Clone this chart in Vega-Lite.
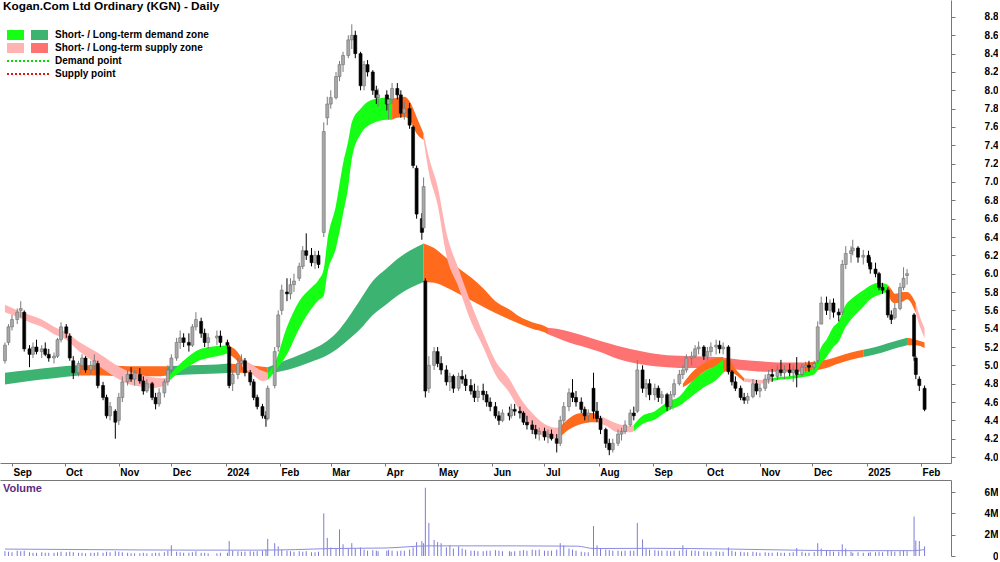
{
"$schema": "https://vega.github.io/schema/vega-lite/v6.json",
"padding": 0,
"background": "white",
"spacing": 17,
"bounds": "flush",
"config": {"view": {"stroke": null}, "font": "Liberation Sans", "title": {"font": "Liberation Sans"},
"axis": {"labelFont": "Liberation Sans", "labelFontSize": 10, "labelFontWeight": "bold", "labelColor": "#000000", "domainColor": "#777777", "tickColor": "#777777", "grid": false},
"legend": {"labelFont": "Liberation Sans"}},
"datasets": {
"p": [
{"d":"2023-08-28","o":5.05,"h":5.25,"l":5.02,"c":5.22,"v":0.45},
{"d":"2023-08-30","o":5.25,"h":5.45,"l":5.22,"c":5.42,"v":0.4},
{"d":"2023-09-01","o":5.42,"h":5.55,"l":5.38,"c":5.5,"v":0.35},
{"d":"2023-09-04","o":5.5,"h":5.62,"l":5.45,"c":5.58,"v":0.5},
{"d":"2023-09-06","o":5.6,"h":5.7,"l":5.52,"c":5.62,"v":0.45},
{"d":"2023-09-08","o":5.58,"h":5.6,"l":5.15,"c":5.18,"v":0.5},
{"d":"2023-09-11","o":5.18,"h":5.22,"l":4.98,"c":5.12,"v":0.35},
{"d":"2023-09-13","o":5.12,"h":5.25,"l":5.08,"c":5.2,"v":0.3},
{"d":"2023-09-15","o":5.2,"h":5.28,"l":5.12,"c":5.15,"v":0.3},
{"d":"2023-09-18","o":5.15,"h":5.22,"l":5.08,"c":5.18,"v":0.35},
{"d":"2023-09-20","o":5.18,"h":5.25,"l":5.1,"c":5.12,"v":0.3},
{"d":"2023-09-22","o":5.12,"h":5.18,"l":5.04,"c":5.08,"v":0.3},
{"d":"2023-09-25","o":5.08,"h":5.14,"l":5.02,"c":5.1,"v":0.3},
{"d":"2023-09-27","o":5.1,"h":5.3,"l":5.08,"c":5.28,"v":0.35},
{"d":"2023-09-29","o":5.28,"h":5.47,"l":5.25,"c":5.42,"v":0.4},
{"d":"2023-10-02","o":5.42,"h":5.45,"l":5.3,"c":5.35,"v":0.35},
{"d":"2023-10-04","o":5.32,"h":5.35,"l":5.05,"c":5.08,"v":0.4},
{"d":"2023-10-06","o":5.05,"h":5.1,"l":4.85,"c":4.92,"v":0.35},
{"d":"2023-10-09","o":4.92,"h":5.05,"l":4.88,"c":5.02,"v":0.3},
{"d":"2023-10-11","o":5.0,"h":5.12,"l":4.95,"c":5.08,"v":0.3},
{"d":"2023-10-13","o":5.08,"h":5.1,"l":4.92,"c":4.95,"v":0.25},
{"d":"2023-10-16","o":4.95,"h":5.05,"l":4.9,"c":5.0,"v":0.3},
{"d":"2023-10-18","o":5.0,"h":5.12,"l":4.95,"c":5.05,"v":0.3},
{"d":"2023-10-20","o":5.02,"h":5.05,"l":4.75,"c":4.78,"v":0.35},
{"d":"2023-10-23","o":4.78,"h":4.82,"l":4.62,"c":4.65,"v":0.3},
{"d":"2023-10-25","o":4.65,"h":4.68,"l":4.42,"c":4.45,"v":0.4},
{"d":"2023-10-27","o":4.45,"h":4.6,"l":4.4,"c":4.55,"v":0.35},
{"d":"2023-10-30","o":4.5,"h":4.52,"l":4.2,"c":4.38,"v":0.45},
{"d":"2023-11-01","o":4.4,"h":4.7,"l":4.35,"c":4.65,"v":0.4},
{"d":"2023-11-03","o":4.65,"h":4.88,"l":4.6,"c":4.82,"v":0.35},
{"d":"2023-11-06","o":4.82,"h":4.95,"l":4.78,"c":4.9,"v":0.3},
{"d":"2023-11-08","o":4.9,"h":4.98,"l":4.82,"c":4.85,"v":0.25},
{"d":"2023-11-10","o":4.85,"h":4.95,"l":4.78,"c":4.92,"v":0.25},
{"d":"2023-11-13","o":4.9,"h":4.97,"l":4.8,"c":4.83,"v":0.25},
{"d":"2023-11-15","o":4.83,"h":4.88,"l":4.68,"c":4.72,"v":0.3},
{"d":"2023-11-17","o":4.72,"h":4.85,"l":4.7,"c":4.8,"v":0.25},
{"d":"2023-11-20","o":4.8,"h":4.82,"l":4.62,"c":4.65,"v":0.25},
{"d":"2023-11-22","o":4.65,"h":4.7,"l":4.52,"c":4.58,"v":0.3},
{"d":"2023-11-24","o":4.58,"h":4.75,"l":4.55,"c":4.7,"v":0.3},
{"d":"2023-11-27","o":4.7,"h":4.85,"l":4.65,"c":4.82,"v":0.35},
{"d":"2023-11-29","o":4.82,"h":5.0,"l":4.78,"c":4.95,"v":0.5},
{"d":"2023-12-01","o":4.95,"h":5.12,"l":4.92,"c":5.08,"v":1.0},
{"d":"2023-12-04","o":5.08,"h":5.3,"l":5.05,"c":5.25,"v":0.4},
{"d":"2023-12-06","o":5.25,"h":5.38,"l":5.18,"c":5.3,"v":0.35},
{"d":"2023-12-08","o":5.3,"h":5.35,"l":5.2,"c":5.25,"v":0.3},
{"d":"2023-12-11","o":5.25,"h":5.35,"l":5.15,"c":5.22,"v":0.3},
{"d":"2023-12-13","o":5.22,"h":5.45,"l":5.2,"c":5.42,"v":0.35},
{"d":"2023-12-15","o":5.42,"h":5.58,"l":5.38,"c":5.5,"v":0.45},
{"d":"2023-12-18","o":5.48,"h":5.52,"l":5.3,"c":5.35,"v":0.3},
{"d":"2023-12-20","o":5.35,"h":5.4,"l":5.2,"c":5.25,"v":0.3},
{"d":"2023-12-22","o":5.25,"h":5.35,"l":5.18,"c":5.3,"v":0.25},
{"d":"2023-12-27","o":5.3,"h":5.38,"l":5.22,"c":5.32,"v":0.25},
{"d":"2023-12-29","o":5.32,"h":5.38,"l":5.2,"c":5.25,"v":0.3},
{"d":"2024-01-02","o":5.25,"h":5.28,"l":5.18,"c":5.22,"v":0.3},
{"d":"2024-01-03","o":5.2,"h":5.22,"l":4.75,"c":4.78,"v":1.4},
{"d":"2024-01-05","o":4.8,"h":4.95,"l":4.72,"c":4.9,"v":0.5},
{"d":"2024-01-08","o":4.9,"h":5.08,"l":4.85,"c":5.02,"v":0.45},
{"d":"2024-01-10","o":5.02,"h":5.12,"l":4.95,"c":5.05,"v":0.4},
{"d":"2024-01-12","o":5.05,"h":5.08,"l":4.88,"c":4.92,"v":0.4},
{"d":"2024-01-15","o":4.92,"h":4.95,"l":4.78,"c":4.82,"v":0.45},
{"d":"2024-01-17","o":4.82,"h":4.85,"l":4.62,"c":4.65,"v":0.4},
{"d":"2024-01-19","o":4.65,"h":4.68,"l":4.52,"c":4.55,"v":0.45},
{"d":"2024-01-22","o":4.55,"h":4.58,"l":4.42,"c":4.45,"v":0.5},
{"d":"2024-01-24","o":4.45,"h":4.5,"l":4.33,"c":4.42,"v":0.6},
{"d":"2024-01-25","o":4.42,"h":4.78,"l":4.4,"c":4.75,"v":1.6},
{"d":"2024-01-29","o":4.78,"h":5.2,"l":4.75,"c":5.15,"v":1.2},
{"d":"2024-01-31","o":5.2,"h":5.6,"l":5.15,"c":5.55,"v":0.9},
{"d":"2024-02-02","o":5.6,"h":5.88,"l":5.55,"c":5.82,"v":0.6},
{"d":"2024-02-05","o":5.8,"h":5.95,"l":5.7,"c":5.78,"v":0.5},
{"d":"2024-02-07","o":5.78,"h":5.95,"l":5.72,"c":5.88,"v":0.45},
{"d":"2024-02-09","o":5.88,"h":6.0,"l":5.8,"c":5.92,"v":0.4},
{"d":"2024-02-12","o":5.95,"h":6.12,"l":5.92,"c":6.08,"v":0.45},
{"d":"2024-02-14","o":6.08,"h":6.3,"l":6.05,"c":6.25,"v":0.4},
{"d":"2024-02-16","o":6.25,"h":6.44,"l":6.15,"c":6.2,"v":0.45},
{"d":"2024-02-19","o":6.2,"h":6.28,"l":6.08,"c":6.12,"v":0.35},
{"d":"2024-02-21","o":6.12,"h":6.25,"l":6.05,"c":6.2,"v":0.35},
{"d":"2024-02-23","o":6.2,"h":6.25,"l":6.06,"c":6.1,"v":0.4},
{"d":"2024-02-26","o":6.45,"h":7.65,"l":6.4,"c":7.55,"v":4.0},
{"d":"2024-02-28","o":7.7,"h":7.93,"l":7.62,"c":7.85,"v":1.7},
{"d":"2024-03-01","o":7.85,"h":8.0,"l":7.8,"c":7.92,"v":0.8},
{"d":"2024-03-04","o":7.92,"h":8.2,"l":7.9,"c":8.15,"v":0.7},
{"d":"2024-03-06","o":8.15,"h":8.32,"l":8.1,"c":8.28,"v":2.5},
{"d":"2024-03-08","o":8.28,"h":8.42,"l":8.2,"c":8.38,"v":1.1},
{"d":"2024-03-11","o":8.38,"h":8.6,"l":8.35,"c":8.55,"v":0.7},
{"d":"2024-03-13","o":8.55,"h":8.72,"l":8.45,"c":8.6,"v":1.2},
{"d":"2024-03-15","o":8.6,"h":8.65,"l":8.35,"c":8.4,"v":0.7},
{"d":"2024-03-18","o":8.4,"h":8.42,"l":8.0,"c":8.05,"v":0.8},
{"d":"2024-03-20","o":8.05,"h":8.32,"l":8.0,"c":8.28,"v":0.6},
{"d":"2024-03-22","o":8.28,"h":8.33,"l":8.15,"c":8.2,"v":0.5},
{"d":"2024-03-25","o":8.2,"h":8.22,"l":7.95,"c":8.0,"v":0.55},
{"d":"2024-03-27","o":8.0,"h":8.05,"l":7.85,"c":7.92,"v":0.5},
{"d":"2024-03-28","o":7.92,"h":8.02,"l":7.82,"c":7.95,"v":0.45},
{"d":"2024-04-02","o":7.95,"h":8.0,"l":7.78,"c":7.85,"v":0.5},
{"d":"2024-04-03","o":7.85,"h":7.95,"l":7.68,"c":7.9,"v":0.55},
{"d":"2024-04-05","o":7.9,"h":8.08,"l":7.85,"c":8.02,"v":0.5},
{"d":"2024-04-08","o":8.02,"h":8.08,"l":7.9,"c":7.95,"v":0.45},
{"d":"2024-04-10","o":7.95,"h":8.0,"l":7.7,"c":7.75,"v":0.5},
{"d":"2024-04-12","o":7.75,"h":7.88,"l":7.68,"c":7.8,"v":0.5},
{"d":"2024-04-15","o":7.8,"h":7.86,"l":7.58,"c":7.62,"v":0.6},
{"d":"2024-04-17","o":7.6,"h":7.62,"l":7.15,"c":7.18,"v":0.8},
{"d":"2024-04-19","o":7.15,"h":7.18,"l":6.6,"c":6.65,"v":1.3},
{"d":"2024-04-22","o":6.6,"h":6.66,"l":6.37,"c":6.45,"v":1.4},
{"d":"2024-04-23","o":6.5,"h":7.05,"l":6.45,"c":6.95,"v":1.2},
{"d":"2024-04-24","o":5.92,"h":5.95,"l":4.65,"c":4.72,"v":6.4},
{"d":"2024-04-26","o":4.75,"h":5.1,"l":4.7,"c":5.0,"v":3.1},
{"d":"2024-04-29","o":5.0,"h":5.2,"l":4.95,"c":5.15,"v":1.5},
{"d":"2024-05-01","o":5.15,"h":5.2,"l":4.98,"c":5.02,"v":1.3},
{"d":"2024-05-03","o":5.02,"h":5.1,"l":4.9,"c":4.95,"v":1.2},
{"d":"2024-05-06","o":4.95,"h":5.0,"l":4.78,"c":4.82,"v":0.8},
{"d":"2024-05-08","o":4.82,"h":4.92,"l":4.72,"c":4.88,"v":1.0},
{"d":"2024-05-10","o":4.88,"h":4.9,"l":4.7,"c":4.75,"v":0.7},
{"d":"2024-05-13","o":4.75,"h":4.92,"l":4.72,"c":4.88,"v":0.9},
{"d":"2024-05-15","o":4.88,"h":4.95,"l":4.8,"c":4.85,"v":0.7},
{"d":"2024-05-17","o":4.85,"h":4.9,"l":4.72,"c":4.78,"v":0.6},
{"d":"2024-05-20","o":4.78,"h":4.85,"l":4.68,"c":4.72,"v":0.5},
{"d":"2024-05-22","o":4.72,"h":4.8,"l":4.6,"c":4.65,"v":0.5},
{"d":"2024-05-24","o":4.65,"h":4.78,"l":4.6,"c":4.72,"v":0.45},
{"d":"2024-05-27","o":4.72,"h":4.8,"l":4.62,"c":4.68,"v":0.45},
{"d":"2024-05-29","o":4.68,"h":4.72,"l":4.55,"c":4.6,"v":0.5},
{"d":"2024-05-31","o":4.6,"h":4.65,"l":4.5,"c":4.55,"v":0.5},
{"d":"2024-06-03","o":4.55,"h":4.6,"l":4.42,"c":4.45,"v":0.55},
{"d":"2024-06-05","o":4.45,"h":4.5,"l":4.35,"c":4.4,"v":0.5},
{"d":"2024-06-07","o":4.4,"h":4.52,"l":4.38,"c":4.48,"v":0.45},
{"d":"2024-06-11","o":4.48,"h":4.55,"l":4.4,"c":4.45,"v":0.45},
{"d":"2024-06-12","o":4.45,"h":4.58,"l":4.42,"c":4.52,"v":0.4},
{"d":"2024-06-14","o":4.52,"h":4.58,"l":4.45,"c":4.5,"v":0.45},
{"d":"2024-06-17","o":4.5,"h":4.55,"l":4.42,"c":4.48,"v":0.5},
{"d":"2024-06-19","o":4.48,"h":4.5,"l":4.35,"c":4.38,"v":0.55},
{"d":"2024-06-21","o":4.38,"h":4.45,"l":4.3,"c":4.35,"v":0.5},
{"d":"2024-06-24","o":4.35,"h":4.4,"l":4.25,"c":4.3,"v":0.6},
{"d":"2024-06-26","o":4.3,"h":4.35,"l":4.2,"c":4.25,"v":0.55},
{"d":"2024-06-28","o":4.25,"h":4.32,"l":4.18,"c":4.28,"v":0.6},
{"d":"2024-07-01","o":4.28,"h":4.32,"l":4.18,"c":4.22,"v":0.5},
{"d":"2024-07-03","o":4.22,"h":4.3,"l":4.15,"c":4.25,"v":0.5},
{"d":"2024-07-05","o":4.25,"h":4.3,"l":4.18,"c":4.2,"v":0.5},
{"d":"2024-07-08","o":4.2,"h":4.25,"l":4.05,"c":4.15,"v":0.6},
{"d":"2024-07-10","o":4.15,"h":4.45,"l":4.12,"c":4.4,"v":1.2},
{"d":"2024-07-12","o":4.4,"h":4.6,"l":4.35,"c":4.55,"v":1.0},
{"d":"2024-07-15","o":4.55,"h":4.75,"l":4.5,"c":4.7,"v":0.7},
{"d":"2024-07-17","o":4.7,"h":4.85,"l":4.6,"c":4.65,"v":0.6},
{"d":"2024-07-19","o":4.65,"h":4.72,"l":4.55,"c":4.6,"v":0.5},
{"d":"2024-07-22","o":4.6,"h":4.65,"l":4.48,"c":4.52,"v":0.4},
{"d":"2024-07-24","o":4.52,"h":4.55,"l":4.4,"c":4.45,"v":0.35},
{"d":"2024-07-26","o":4.45,"h":4.52,"l":4.38,"c":4.48,"v":0.35},
{"d":"2024-07-29","o":4.75,"h":4.92,"l":4.42,"c":4.5,"v":2.8},
{"d":"2024-07-31","o":4.5,"h":4.6,"l":4.38,"c":4.42,"v":1.0},
{"d":"2024-08-02","o":4.42,"h":4.45,"l":4.25,"c":4.3,"v":0.7},
{"d":"2024-08-05","o":4.3,"h":4.32,"l":4.1,"c":4.15,"v":0.6},
{"d":"2024-08-07","o":4.15,"h":4.2,"l":4.02,"c":4.08,"v":0.55},
{"d":"2024-08-09","o":4.08,"h":4.2,"l":4.05,"c":4.15,"v":0.5},
{"d":"2024-08-12","o":4.15,"h":4.3,"l":4.12,"c":4.25,"v":0.5},
{"d":"2024-08-14","o":4.25,"h":4.32,"l":4.18,"c":4.28,"v":0.45},
{"d":"2024-08-16","o":4.28,"h":4.4,"l":4.25,"c":4.35,"v":0.5},
{"d":"2024-08-19","o":4.35,"h":4.52,"l":4.33,"c":4.48,"v":0.5},
{"d":"2024-08-21","o":4.48,"h":4.55,"l":4.4,"c":4.45,"v":0.5},
{"d":"2024-08-23","o":4.5,"h":5.06,"l":4.48,"c":4.95,"v":3.1},
{"d":"2024-08-26","o":4.95,"h":5.0,"l":4.7,"c":4.75,"v":1.55},
{"d":"2024-08-28","o":4.75,"h":4.85,"l":4.65,"c":4.8,"v":0.7},
{"d":"2024-08-30","o":4.8,"h":4.85,"l":4.62,"c":4.68,"v":0.6},
{"d":"2024-09-02","o":4.68,"h":4.8,"l":4.62,"c":4.75,"v":0.55},
{"d":"2024-09-04","o":4.75,"h":4.78,"l":4.6,"c":4.65,"v":0.5},
{"d":"2024-09-06","o":4.65,"h":4.72,"l":4.58,"c":4.68,"v":0.5},
{"d":"2024-09-09","o":4.68,"h":4.7,"l":4.5,"c":4.55,"v":0.5},
{"d":"2024-09-11","o":4.55,"h":4.72,"l":4.52,"c":4.68,"v":0.45},
{"d":"2024-09-13","o":4.68,"h":4.85,"l":4.65,"c":4.8,"v":0.5},
{"d":"2024-09-16","o":4.8,"h":4.95,"l":4.78,"c":4.9,"v":0.5},
{"d":"2024-09-18","o":4.9,"h":5.0,"l":4.85,"c":4.95,"v":1.0},
{"d":"2024-09-20","o":4.95,"h":5.12,"l":4.92,"c":5.08,"v":0.6},
{"d":"2024-09-23","o":5.08,"h":5.15,"l":5.0,"c":5.1,"v":0.5},
{"d":"2024-09-25","o":5.1,"h":5.22,"l":5.08,"c":5.18,"v":0.5},
{"d":"2024-09-27","o":5.18,"h":5.26,"l":5.12,"c":5.2,"v":0.45},
{"d":"2024-09-30","o":5.2,"h":5.22,"l":5.06,"c":5.1,"v":0.45},
{"d":"2024-10-02","o":5.1,"h":5.2,"l":5.05,"c":5.15,"v":0.4},
{"d":"2024-10-04","o":5.15,"h":5.25,"l":5.1,"c":5.2,"v":0.4},
{"d":"2024-10-07","o":5.2,"h":5.28,"l":5.12,"c":5.22,"v":0.45},
{"d":"2024-10-09","o":5.22,"h":5.27,"l":5.13,"c":5.18,"v":0.4},
{"d":"2024-10-11","o":5.18,"h":5.25,"l":5.12,"c":5.2,"v":0.4},
{"d":"2024-10-14","o":5.2,"h":5.22,"l":4.9,"c":4.93,"v":0.8},
{"d":"2024-10-16","o":4.93,"h":4.95,"l":4.78,"c":4.82,"v":0.5},
{"d":"2024-10-18","o":4.82,"h":4.88,"l":4.72,"c":4.75,"v":0.4},
{"d":"2024-10-21","o":4.75,"h":4.78,"l":4.62,"c":4.65,"v":0.4},
{"d":"2024-10-23","o":4.65,"h":4.7,"l":4.58,"c":4.62,"v":0.35},
{"d":"2024-10-25","o":4.62,"h":4.7,"l":4.58,"c":4.66,"v":0.35},
{"d":"2024-10-28","o":4.66,"h":4.85,"l":4.64,"c":4.8,"v":0.4},
{"d":"2024-10-30","o":4.8,"h":4.84,"l":4.68,"c":4.72,"v":0.35},
{"d":"2024-11-01","o":4.72,"h":4.8,"l":4.65,"c":4.75,"v":0.3},
{"d":"2024-11-04","o":4.75,"h":4.9,"l":4.72,"c":4.85,"v":0.35},
{"d":"2024-11-06","o":4.85,"h":4.95,"l":4.8,"c":4.9,"v":0.3},
{"d":"2024-11-08","o":4.9,"h":4.96,"l":4.82,"c":4.88,"v":0.3},
{"d":"2024-11-11","o":4.88,"h":5.0,"l":4.84,"c":4.95,"v":0.35},
{"d":"2024-11-13","o":4.95,"h":5.06,"l":4.88,"c":4.92,"v":0.3},
{"d":"2024-11-15","o":4.92,"h":5.0,"l":4.85,"c":4.95,"v":0.3},
{"d":"2024-11-18","o":4.95,"h":5.02,"l":4.88,"c":4.92,"v":0.3},
{"d":"2024-11-20","o":4.92,"h":5.0,"l":4.82,"c":4.95,"v":0.35},
{"d":"2024-11-22","o":4.95,"h":5.09,"l":4.76,"c":4.9,"v":0.75},
{"d":"2024-11-25","o":4.9,"h":5.02,"l":4.88,"c":4.98,"v":0.4},
{"d":"2024-11-27","o":4.98,"h":5.04,"l":4.92,"c":5.0,"v":0.3},
{"d":"2024-11-29","o":5.0,"h":5.05,"l":4.93,"c":4.98,"v":0.3},
{"d":"2024-12-02","o":4.98,"h":5.05,"l":4.95,"c":5.02,"v":0.35},
{"d":"2024-12-04","o":5.05,"h":5.48,"l":5.02,"c":5.42,"v":1.2},
{"d":"2024-12-06","o":5.45,"h":5.75,"l":5.45,"c":5.68,"v":0.7},
{"d":"2024-12-09","o":5.68,"h":5.75,"l":5.55,"c":5.6,"v":0.5},
{"d":"2024-12-11","o":5.6,"h":5.72,"l":5.5,"c":5.68,"v":0.45},
{"d":"2024-12-13","o":5.68,"h":5.73,"l":5.52,"c":5.58,"v":0.4},
{"d":"2024-12-16","o":5.58,"h":5.62,"l":5.48,"c":5.55,"v":0.4},
{"d":"2024-12-18","o":5.58,"h":6.15,"l":5.55,"c":6.1,"v":1.1},
{"d":"2024-12-20","o":6.1,"h":6.3,"l":6.05,"c":6.22,"v":0.7},
{"d":"2024-12-23","o":6.22,"h":6.3,"l":6.12,"c":6.25,"v":0.4},
{"d":"2024-12-24","o":6.25,"h":6.37,"l":6.2,"c":6.28,"v":0.3},
{"d":"2024-12-27","o":6.28,"h":6.3,"l":6.12,"c":6.18,"v":0.35},
{"d":"2024-12-30","o":6.18,"h":6.26,"l":6.1,"c":6.2,"v":0.3},
{"d":"2025-01-02","o":6.2,"h":6.25,"l":6.08,"c":6.12,"v":0.3},
{"d":"2025-01-03","o":6.12,"h":6.18,"l":6.0,"c":6.05,"v":0.35},
{"d":"2025-01-06","o":6.05,"h":6.12,"l":5.96,"c":6.0,"v":0.35},
{"d":"2025-01-08","o":6.0,"h":6.02,"l":5.82,"c":5.85,"v":0.4},
{"d":"2025-01-10","o":5.85,"h":5.9,"l":5.78,"c":5.82,"v":0.35},
{"d":"2025-01-13","o":5.82,"h":5.85,"l":5.52,"c":5.55,"v":0.5},
{"d":"2025-01-15","o":5.55,"h":5.6,"l":5.45,"c":5.5,"v":0.45},
{"d":"2025-01-17","o":5.52,"h":5.68,"l":5.5,"c":5.62,"v":0.4},
{"d":"2025-01-20","o":5.62,"h":5.9,"l":5.6,"c":5.85,"v":0.45},
{"d":"2025-01-22","o":5.85,"h":6.07,"l":5.82,"c":5.95,"v":0.5},
{"d":"2025-01-24","o":5.98,"h":6.05,"l":5.88,"c":6.0,"v":0.45},
{"d":"2025-01-28","o":5.55,"h":5.57,"l":5.05,"c":5.1,"v":3.7},
{"d":"2025-01-29","o":5.08,"h":5.1,"l":4.85,"c":4.9,"v":1.45},
{"d":"2025-01-31","o":4.85,"h":4.88,"l":4.72,"c":4.78,"v":1.4},
{"d":"2025-02-03","o":4.75,"h":4.78,"l":4.5,"c":4.52,"v":0.9}
],
"b": [
{"g":"L1","c":"ld","d":"2023-08-28","u":4.92,"w":4.79},
{"g":"L1","c":"ld","d":"2023-09-11","u":4.95,"w":4.83},
{"g":"L1","c":"ld","d":"2023-09-25","u":4.98,"w":4.86},
{"g":"L1","c":"ld","d":"2023-10-09","u":5.0,"w":4.89},
{"g":"L2","c":"or","d":"2023-10-09","u":5.0,"w":4.89},
{"g":"L2","c":"or","d":"2023-10-23","u":5.0,"w":4.89},
{"g":"L2","c":"or","d":"2023-11-06","u":4.99,"w":4.88},
{"g":"L2","c":"or","d":"2023-11-20","u":4.99,"w":4.88},
{"g":"L2","c":"or","d":"2023-11-29","u":4.99,"w":4.89},
{"g":"L3","c":"ld","d":"2023-11-29","u":4.99,"w":4.89},
{"g":"L3","c":"ld","d":"2023-12-11","u":5.0,"w":4.9},
{"g":"L3","c":"ld","d":"2023-12-27","u":5.01,"w":4.91},
{"g":"L3","c":"ld","d":"2024-01-03","u":5.02,"w":4.92},
{"g":"L4","c":"or","d":"2024-01-03","u":5.02,"w":4.92},
{"g":"L4","c":"or","d":"2024-01-15","u":5.0,"w":4.92},
{"g":"L4","c":"or","d":"2024-01-25","u":4.98,"w":4.91},
{"g":"L5","c":"ld","d":"2024-01-25","u":4.98,"w":4.91},
{"g":"L5","c":"ld","d":"2024-02-05","u":5.06,"w":4.95},
{"g":"L5","c":"ld","d":"2024-02-19","u":5.17,"w":5.04},
{"g":"L5","c":"ld","d":"2024-02-26","u":5.24,"w":5.09},
{"g":"L5","c":"ld","d":"2024-03-04","u":5.35,"w":5.17},
{"g":"L5","c":"ld","d":"2024-03-11","u":5.52,"w":5.28},
{"g":"L5","c":"ld","d":"2024-03-18","u":5.72,"w":5.4},
{"g":"L5","c":"ld","d":"2024-03-25","u":5.92,"w":5.55},
{"g":"L5","c":"ld","d":"2024-04-02","u":6.06,"w":5.67},
{"g":"L5","c":"ld","d":"2024-04-08","u":6.16,"w":5.76},
{"g":"L5","c":"ld","d":"2024-04-15","u":6.25,"w":5.84},
{"g":"L5","c":"ld","d":"2024-04-23","u":6.33,"w":5.91},
{"g":"L6","c":"or","d":"2024-04-23","u":6.33,"w":5.91},
{"g":"L6","c":"or","d":"2024-04-29","u":6.28,"w":5.9},
{"g":"L6","c":"or","d":"2024-05-06","u":6.17,"w":5.85},
{"g":"L6","c":"or","d":"2024-05-13","u":6.06,"w":5.78},
{"g":"L6","c":"or","d":"2024-05-20","u":5.96,"w":5.71},
{"g":"L6","c":"or","d":"2024-05-27","u":5.84,"w":5.64},
{"g":"L6","c":"or","d":"2024-06-03","u":5.7,"w":5.57},
{"g":"L6","c":"or","d":"2024-06-11","u":5.61,"w":5.5},
{"g":"L6","c":"or","d":"2024-06-17","u":5.53,"w":5.45},
{"g":"L6","c":"or","d":"2024-06-24","u":5.47,"w":5.4},
{"g":"L6","c":"or","d":"2024-07-01","u":5.43,"w":5.36},
{"g":"L6","c":"or","d":"2024-07-03","u":5.41,"w":5.34},
{"g":"L7","c":"ls","d":"2024-07-03","u":5.41,"w":5.34},
{"g":"L7","c":"ls","d":"2024-07-08","u":5.4,"w":5.3},
{"g":"L7","c":"ls","d":"2024-07-15","u":5.37,"w":5.25},
{"g":"L7","c":"ls","d":"2024-07-22","u":5.33,"w":5.21},
{"g":"L7","c":"ls","d":"2024-08-01","u":5.27,"w":5.15},
{"g":"L7","c":"ls","d":"2024-08-12","u":5.21,"w":5.07},
{"g":"L7","c":"ls","d":"2024-08-26","u":5.15,"w":5.01},
{"g":"L7","c":"ls","d":"2024-09-09","u":5.11,"w":4.98},
{"g":"L7","c":"ls","d":"2024-09-23","u":5.1,"w":4.97},
{"g":"L7","c":"ls","d":"2024-10-07","u":5.09,"w":4.97},
{"g":"L7","c":"ls","d":"2024-10-21","u":5.06,"w":4.95},
{"g":"L7","c":"ls","d":"2024-11-04","u":5.04,"w":4.93},
{"g":"L7","c":"ls","d":"2024-11-18","u":5.03,"w":4.93},
{"g":"L7","c":"ls","d":"2024-11-27","u":5.03,"w":4.93},
{"g":"L8","c":"or","d":"2024-11-27","u":5.03,"w":4.93},
{"g":"L8","c":"or","d":"2024-12-02","u":5.04,"w":4.94},
{"g":"L8","c":"or","d":"2024-12-09","u":5.06,"w":4.97},
{"g":"L8","c":"or","d":"2024-12-16","u":5.1,"w":5.02},
{"g":"L8","c":"or","d":"2024-12-23","u":5.14,"w":5.06},
{"g":"L8","c":"or","d":"2024-12-30","u":5.17,"w":5.09},
{"g":"L9","c":"ld","d":"2024-12-30","u":5.17,"w":5.09},
{"g":"L9","c":"ld","d":"2025-01-06","u":5.2,"w":5.12},
{"g":"L9","c":"ld","d":"2025-01-13","u":5.24,"w":5.16},
{"g":"L9","c":"ld","d":"2025-01-20","u":5.28,"w":5.2},
{"g":"L9","c":"ld","d":"2025-01-24","u":5.3,"w":5.22},
{"g":"LA","c":"or","d":"2025-01-24","u":5.3,"w":5.22},
{"g":"LA","c":"or","d":"2025-01-29","u":5.28,"w":5.22},
{"g":"LA","c":"or","d":"2025-02-03","u":5.25,"w":5.19},
{"g":"S1","c":"ss","d":"2023-08-28","u":5.66,"w":5.58},
{"g":"S1","c":"ss","d":"2023-09-04","u":5.6,"w":5.53},
{"g":"S1","c":"ss","d":"2023-09-11","u":5.55,"w":5.47},
{"g":"S1","c":"ss","d":"2023-09-18","u":5.5,"w":5.42},
{"g":"S1","c":"ss","d":"2023-09-25","u":5.42,"w":5.34},
{"g":"S1","c":"ss","d":"2023-10-02","u":5.36,"w":5.28},
{"g":"S1","c":"ss","d":"2023-10-09","u":5.26,"w":5.16},
{"g":"S1","c":"ss","d":"2023-10-16","u":5.18,"w":5.06},
{"g":"S1","c":"ss","d":"2023-10-23","u":5.1,"w":4.96},
{"g":"S1","c":"ss","d":"2023-10-30","u":5.01,"w":4.87},
{"g":"S1","c":"ss","d":"2023-11-06","u":4.94,"w":4.8},
{"g":"S1","c":"ss","d":"2023-11-13","u":4.9,"w":4.77},
{"g":"S1","c":"ss","d":"2023-11-20","u":4.87,"w":4.75},
{"g":"S1","c":"ss","d":"2023-11-27","u":4.86,"w":4.78},
{"g":"S1","c":"ss","d":"2023-11-29","u":4.87,"w":4.82},
{"g":"S2","c":"sd","d":"2023-11-29","u":4.87,"w":4.82},
{"g":"S2","c":"sd","d":"2023-12-04","u":4.98,"w":4.9},
{"g":"S2","c":"sd","d":"2023-12-11","u":5.1,"w":4.99},
{"g":"S2","c":"sd","d":"2023-12-18","u":5.18,"w":5.06},
{"g":"S2","c":"sd","d":"2023-12-27","u":5.21,"w":5.1},
{"g":"S2","c":"sd","d":"2024-01-02","u":5.22,"w":5.13},
{"g":"S3","c":"or","d":"2024-01-02","u":5.22,"w":5.13},
{"g":"S3","c":"or","d":"2024-01-08","u":5.14,"w":5.04},
{"g":"S3","c":"or","d":"2024-01-10","u":5.08,"w":4.99},
{"g":"S4","c":"ss","d":"2024-01-10","u":5.08,"w":4.99},
{"g":"S4","c":"ss","d":"2024-01-15","u":5.02,"w":4.92},
{"g":"S4","c":"ss","d":"2024-01-22","u":4.94,"w":4.83},
{"g":"S4","c":"ss","d":"2024-01-25","u":4.92,"w":4.84},
{"g":"S5","c":"sd","d":"2024-01-25","u":4.92,"w":4.84},
{"g":"S5","c":"sd","d":"2024-01-29","u":5.02,"w":4.93},
{"g":"S5","c":"sd","d":"2024-02-05","u":5.42,"w":5.12},
{"g":"S5","c":"sd","d":"2024-02-12","u":5.7,"w":5.4},
{"g":"S5","c":"sd","d":"2024-02-19","u":5.85,"w":5.62},
{"g":"S5","c":"sd","d":"2024-02-23","u":5.93,"w":5.71},
{"g":"S5","c":"sd","d":"2024-02-26","u":6.05,"w":5.76},
{"g":"S5","c":"sd","d":"2024-02-28","u":6.35,"w":6.0},
{"g":"S5","c":"sd","d":"2024-03-04","u":6.75,"w":6.28},
{"g":"S5","c":"sd","d":"2024-03-08","u":7.2,"w":6.65},
{"g":"S5","c":"sd","d":"2024-03-11","u":7.45,"w":6.95},
{"g":"S5","c":"sd","d":"2024-03-13","u":7.65,"w":7.25},
{"g":"S5","c":"sd","d":"2024-03-18","u":7.8,"w":7.52},
{"g":"S5","c":"sd","d":"2024-03-25","u":7.9,"w":7.64},
{"g":"S5","c":"sd","d":"2024-04-02","u":7.92,"w":7.68},
{"g":"S5","c":"sd","d":"2024-04-05","u":7.91,"w":7.68},
{"g":"S6","c":"or","d":"2024-04-05","u":7.91,"w":7.68},
{"g":"S6","c":"or","d":"2024-04-08","u":7.92,"w":7.7},
{"g":"S6","c":"or","d":"2024-04-12","u":7.93,"w":7.71},
{"g":"S6","c":"or","d":"2024-04-15","u":7.88,"w":7.68},
{"g":"S6","c":"or","d":"2024-04-19","u":7.71,"w":7.53},
{"g":"S6","c":"or","d":"2024-04-23","u":7.53,"w":7.46},
{"g":"S7","c":"ss","d":"2024-04-23","u":7.53,"w":7.46},
{"g":"S7","c":"ss","d":"2024-04-26","u":7.27,"w":7.1},
{"g":"S7","c":"ss","d":"2024-05-01","u":6.95,"w":6.75},
{"g":"S7","c":"ss","d":"2024-05-06","u":6.45,"w":6.2},
{"g":"S7","c":"ss","d":"2024-05-13","u":6.05,"w":5.85},
{"g":"S7","c":"ss","d":"2024-05-20","u":5.68,"w":5.48},
{"g":"S7","c":"ss","d":"2024-05-27","u":5.35,"w":5.2},
{"g":"S7","c":"ss","d":"2024-06-03","u":5.05,"w":4.9},
{"g":"S7","c":"ss","d":"2024-06-11","u":4.85,"w":4.7},
{"g":"S7","c":"ss","d":"2024-06-17","u":4.65,"w":4.5},
{"g":"S7","c":"ss","d":"2024-06-24","u":4.48,"w":4.33},
{"g":"S7","c":"ss","d":"2024-07-01","u":4.36,"w":4.22},
{"g":"S7","c":"ss","d":"2024-07-08","u":4.32,"w":4.2},
{"g":"S7","c":"ss","d":"2024-07-10","u":4.33,"w":4.22},
{"g":"S8","c":"or","d":"2024-07-10","u":4.33,"w":4.22},
{"g":"S8","c":"or","d":"2024-07-15","u":4.42,"w":4.3},
{"g":"S8","c":"or","d":"2024-07-22","u":4.48,"w":4.36},
{"g":"S8","c":"or","d":"2024-07-29","u":4.48,"w":4.38},
{"g":"S8","c":"or","d":"2024-07-31","u":4.46,"w":4.38},
{"g":"S9","c":"ss","d":"2024-07-31","u":4.46,"w":4.38},
{"g":"S9","c":"ss","d":"2024-08-05","u":4.42,"w":4.34},
{"g":"S9","c":"ss","d":"2024-08-12","u":4.36,"w":4.27},
{"g":"S9","c":"ss","d":"2024-08-19","u":4.34,"w":4.27},
{"g":"S9","c":"ss","d":"2024-08-21","u":4.35,"w":4.28},
{"g":"SA","c":"sd","d":"2024-08-21","u":4.35,"w":4.28},
{"g":"SA","c":"sd","d":"2024-08-26","u":4.45,"w":4.36},
{"g":"SA","c":"sd","d":"2024-09-02","u":4.5,"w":4.41},
{"g":"SA","c":"sd","d":"2024-09-09","u":4.6,"w":4.5},
{"g":"SA","c":"sd","d":"2024-09-16","u":4.66,"w":4.56},
{"g":"SA","c":"sd","d":"2024-09-23","u":4.82,"w":4.66},
{"g":"SA","c":"sd","d":"2024-09-30","u":4.93,"w":4.76},
{"g":"SA","c":"sd","d":"2024-10-07","u":5.0,"w":4.84},
{"g":"SA","c":"sd","d":"2024-10-11","u":5.06,"w":4.92},
{"g":"SX","c":"or","d":"2024-09-18","u":4.8,"w":4.76},
{"g":"SX","c":"or","d":"2024-09-23","u":4.92,"w":4.82},
{"g":"SX","c":"or","d":"2024-09-30","u":5.02,"w":4.93},
{"g":"SX","c":"or","d":"2024-10-07","u":5.08,"w":5.0},
{"g":"SX","c":"or","d":"2024-10-11","u":5.09,"w":5.06},
{"g":"SB","c":"or","d":"2024-10-11","u":5.06,"w":4.92},
{"g":"SB","c":"or","d":"2024-10-14","u":5.06,"w":4.94},
{"g":"SB","c":"or","d":"2024-10-18","u":4.96,"w":4.9},
{"g":"SB","c":"or","d":"2024-10-23","u":4.86,"w":4.82},
{"g":"SC","c":"ss","d":"2024-10-23","u":4.86,"w":4.82},
{"g":"SC","c":"ss","d":"2024-10-28","u":4.85,"w":4.81},
{"g":"SC","c":"ss","d":"2024-11-01","u":4.84,"w":4.8},
{"g":"SC","c":"ss","d":"2024-11-08","u":4.86,"w":4.83},
{"g":"SD","c":"sd","d":"2024-11-08","u":4.86,"w":4.83},
{"g":"SD","c":"sd","d":"2024-11-11","u":4.87,"w":4.84},
{"g":"SD","c":"sd","d":"2024-11-18","u":4.88,"w":4.85},
{"g":"SD","c":"sd","d":"2024-11-25","u":4.92,"w":4.87},
{"g":"SD","c":"sd","d":"2024-12-02","u":4.98,"w":4.9},
{"g":"SD","c":"sd","d":"2024-12-06","u":5.2,"w":5.02},
{"g":"SD","c":"sd","d":"2024-12-09","u":5.28,"w":5.09},
{"g":"SD","c":"sd","d":"2024-12-13","u":5.42,"w":5.2},
{"g":"SD","c":"sd","d":"2024-12-16","u":5.48,"w":5.26},
{"g":"SD","c":"sd","d":"2024-12-20","u":5.66,"w":5.42},
{"g":"SD","c":"sd","d":"2024-12-23","u":5.72,"w":5.5},
{"g":"SD","c":"sd","d":"2024-12-30","u":5.82,"w":5.64},
{"g":"SD","c":"sd","d":"2025-01-03","u":5.87,"w":5.72},
{"g":"SD","c":"sd","d":"2025-01-08","u":5.9,"w":5.77},
{"g":"SD","c":"sd","d":"2025-01-13","u":5.88,"w":5.8},
{"g":"SE","c":"or","d":"2025-01-13","u":5.88,"w":5.8},
{"g":"SE","c":"or","d":"2025-01-15","u":5.83,"w":5.7},
{"g":"SE","c":"or","d":"2025-01-17","u":5.78,"w":5.68},
{"g":"SE","c":"or","d":"2025-01-22","u":5.8,"w":5.7},
{"g":"SE","c":"or","d":"2025-01-24","u":5.8,"w":5.72},
{"g":"SE","c":"or","d":"2025-01-29","u":5.68,"w":5.57},
{"g":"SF","c":"ss","d":"2025-01-29","u":5.68,"w":5.57},
{"g":"SF","c":"ss","d":"2025-01-31","u":5.55,"w":5.44},
{"g":"SF","c":"ss","d":"2025-02-03","u":5.4,"w":5.3}
],
"va": [
{"d":"2023-08-28","a":0.65},{"d":"2023-10-15","a":0.6},{"d":"2023-12-15","a":0.55},{"d":"2024-01-20","a":0.55},{"d":"2024-02-10","a":0.6},{"d":"2024-03-01","a":0.7},{"d":"2024-04-01","a":0.75},{"d":"2024-04-26","a":0.95},{"d":"2024-06-15","a":0.95},{"d":"2024-07-20","a":0.92},{"d":"2024-07-29","a":0.7},{"d":"2024-09-01","a":0.72},{"d":"2024-10-15","a":0.65},{"d":"2024-11-20","a":0.55},{"d":"2024-12-20","a":0.5},{"d":"2025-01-27","a":0.5},{"d":"2025-02-03","a":0.6}
]
},
"vconcat": [
{
"width": 951,
"height": 463,
"title": {"text": "Kogan.Com Ltd Ordinary (KGN) - Daily", "anchor": "start", "offset": -13, "dx": 3, "fontSize": 11.8, "fontWeight": "bold", "color": "#000000"},
"encoding": {
"x": {"field": "d", "type": "temporal", "title": null,
"scale": {"type": "utc", "nice": false, "padding": 0, "domain": [{"year": 2023, "month": 8, "date": 25, "hours": 4, "utc": true}, {"year": 2025, "month": 2, "date": 18, "hours": 2, "utc": true}]},
"axis": {"orient": "bottom", "tickCount": {"interval": "month", "step": 1}, "labelExpr": "utcmonth(datum.value) == 0 ? utcFormat(datum.value, '%Y') : utcFormat(datum.value, '%b')", "labelAlign": "left", "labelOffset": 1, "labelPadding": 1, "labelBaseline": "top", "tickSize": 3, "labelFlush": false, "labelOverlap": false, "labelBound": false}}
},
"layer": [
{
"data": {"name": "b"},
"transform": [{"filter": "indexof(datum.g, 'L') == 0"}],
"mark": {"type": "area", "opacity": 1, "interpolate": "monotone"},
"encoding": {
"y": {"field": "u", "type": "quantitative", "title": null, "scale": {"domain": [3.935, 8.985], "nice": false, "zero": false},
"axis": {"orient": "right", "values": [4, 4.2, 4.4, 4.6, 4.8, 5, 5.2, 5.4, 5.6, 5.8, 6, 6.2, 6.4, 6.6, 6.8, 7, 7.2, 7.4, 7.6, 7.8, 8, 8.2, 8.4, 8.6, 8.8], "format": ".1f", "labelAlign": "right", "labelPadding": 43, "tickSize": 4}},
"y2": {"field": "w"},
"detail": {"field": "g"},
"color": {"field": "c", "type": "nominal",
"scale": {"domain": ["sd", "ss", "dpa", "spa", "ld", "ls", "dpb", "spb", "or"], "range": ["#14ff14", "#ffb3b3", "#00dd00", "#ee1111", "#3cb371", "#ff7272", "#00dd00", "#ee1111", "#ff6a1c"]},
"legend": {"orient": "none", "legendX": 7, "legendY": 30, "columns": 2, "columnPadding": 0, "rowPadding": 3, "title": null, "padding": 0, "offset": 0,
"values": ["sd", "ss", "dpa", "spa", "ld", "ls", "dpb", "spb"],
"symbolType": "M-1,-1H2.4V1H-1Z", "symbolSize": 100, "symbolStrokeWidth": 0, "symbolOpacity": 1,
"labelOffset": 14, "labelFontSize": 10, "labelFontWeight": "bold", "labelColor": "#000000", "labelLimit": 400,
"labelExpr": "datum.value == 'ld' ? 'Short- / Long-term demand zone' : datum.value == 'ls' ? 'Short- / Long-term supply zone' : datum.value == 'dpb' ? 'Demand point' : datum.value == 'spb' ? 'Supply point' : ''",
"encode": {"symbols": {"update": {"shape": {"signal": "(datum.value == 'dpa' || datum.value == 'spa') ? 'M-1,-0.2h0.4v0.4h-0.4ZM-0.2,-0.2h0.4v0.4h-0.4ZM0.6,-0.2h0.4v0.4h-0.4ZM1.4,-0.2h0.4v0.4h-0.4ZM2.2,-0.2h0.4v0.4h-0.4ZM3,-0.2h0.4v0.4h-0.4Z' : ((datum.value == 'dpb' || datum.value == 'spb') ? 'M-1,-0.2h0.4v0.4h-0.4ZM-0.2,-0.2h0.4v0.4h-0.4ZM0.6,-0.2h0.4v0.4h-0.4ZM1.4,-0.2h0.4v0.4h-0.4ZM2.2,-0.2h0.4v0.4h-0.4Z' : 'M-1,-1H2.4V1H-1Z')"}}}}
}
}
}
},
{
"data": {"name": "b"},
"transform": [{"filter": "indexof(datum.g, 'S') == 0"}],
"mark": {"type": "area", "opacity": 1, "interpolate": "monotone"},
"encoding": {
"y": {"field": "u", "type": "quantitative", "title": null, "scale": {"domain": [3.935, 8.985], "nice": false, "zero": false},
"axis": {"orient": "right", "values": [4, 4.2, 4.4, 4.6, 4.8, 5, 5.2, 5.4, 5.6, 5.8, 6, 6.2, 6.4, 6.6, 6.8, 7, 7.2, 7.4, 7.6, 7.8, 8, 8.2, 8.4, 8.6, 8.8], "format": ".1f", "labelAlign": "right", "labelPadding": 43, "tickSize": 4}},
"y2": {"field": "w"},
"detail": {"field": "g"},
"color": {"field": "c", "type": "nominal", "scale": {"domain": ["sd", "ss", "dpa", "spa", "ld", "ls", "dpb", "spb", "or"], "range": ["#14ff14", "#ffb3b3", "#00dd00", "#ee1111", "#3cb371", "#ff7272", "#00dd00", "#ee1111", "#ff6a1c"]}, "legend": null}
}
},
{
"data": {"name": "p"},
"mark": {"type": "rule", "strokeWidth": 1},
"encoding": {
"y": {"field": "l", "type": "quantitative", "title": null, "scale": {"domain": [3.935, 8.985], "nice": false, "zero": false},
"axis": {"orient": "right", "values": [4, 4.2, 4.4, 4.6, 4.8, 5, 5.2, 5.4, 5.6, 5.8, 6, 6.2, 6.4, 6.6, 6.8, 7, 7.2, 7.4, 7.6, 7.8, 8, 8.2, 8.4, 8.6, 8.8], "format": ".1f", "labelAlign": "right", "labelPadding": 43, "tickSize": 4}},
"y2": {"field": "h"},
"stroke": {"condition": {"test": "datum.c >= datum.o", "value": "#7a7a7a"}, "value": "#000000"}
}
},
{
"data": {"name": "p"},
"mark": {"type": "bar", "size": 3, "orient": "vertical", "strokeWidth": 0.6},
"encoding": {
"y": {"field": "o", "type": "quantitative", "title": null, "scale": {"domain": [3.935, 8.985], "nice": false, "zero": false},
"axis": {"orient": "right", "values": [4, 4.2, 4.4, 4.6, 4.8, 5, 5.2, 5.4, 5.6, 5.8, 6, 6.2, 6.4, 6.6, 6.8, 7, 7.2, 7.4, 7.6, 7.8, 8, 8.2, 8.4, 8.6, 8.8], "format": ".1f", "labelAlign": "right", "labelPadding": 43, "tickSize": 4}},
"y2": {"field": "c"},
"fill": {"condition": {"test": "datum.c >= datum.o", "value": "#a8a8a8"}, "value": "#000000"},
"stroke": {"condition": {"test": "datum.c >= datum.o", "value": "#707070"}, "value": "#000000"}
}
}
]
},
{
"width": 951,
"height": 76,
"title": {"text": "Volume", "anchor": "start", "offset": -14, "dx": 3, "fontSize": 11, "fontWeight": "bold", "color": "#5b2c83"},
"encoding": {
"x": {"field": "d", "type": "temporal", "title": null,
"scale": {"type": "utc", "nice": false, "padding": 0, "domain": [{"year": 2023, "month": 8, "date": 25, "hours": 4, "utc": true}, {"year": 2025, "month": 2, "date": 18, "hours": 2, "utc": true}]},
"axis": {"orient": "top", "labels": false, "ticks": false, "domain": true}}
},
"layer": [
{
"data": {"name": "p"},
"mark": {"type": "rule", "color": "#7c7cd8", "strokeWidth": 1},
"encoding": {
"y": {"field": "v", "type": "quantitative", "title": null, "scale": {"domain": [0, 7.125], "nice": false},
"axis": {"orient": "right", "values": [0, 2, 4, 6], "labelExpr": "datum.value == 0 ? '0' : datum.value + 'M'", "labelAlign": "right", "labelPadding": 43, "tickSize": 4}},
"y2": {"datum": 0}
}
},
{
"data": {"name": "va"},
"mark": {"type": "line", "color": "#8c8ce0", "strokeWidth": 1, "interpolate": "monotone"},
"encoding": {
"y": {"field": "a", "type": "quantitative", "title": null, "scale": {"domain": [0, 7.125], "nice": false},
"axis": {"orient": "right", "values": [0, 2, 4, 6], "labelExpr": "datum.value == 0 ? '0' : datum.value + 'M'", "labelAlign": "right", "labelPadding": 43, "tickSize": 4}}
}
}
]
}
]
}
